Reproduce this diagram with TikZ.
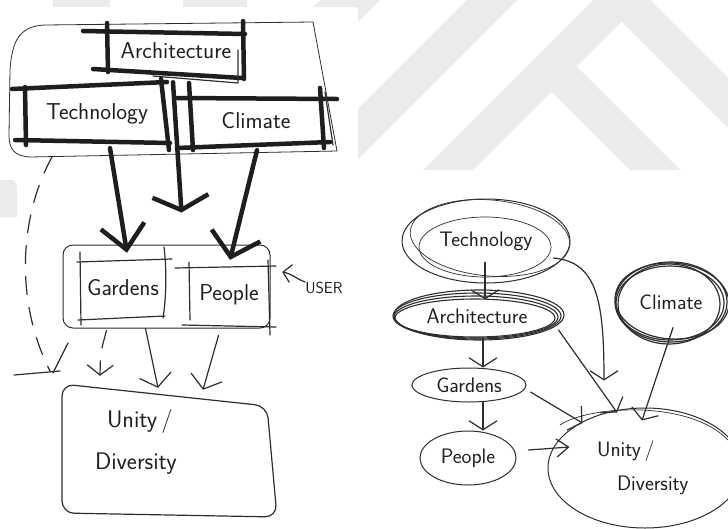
\documentclass[tikz,border=0pt]{standalone}
\usetikzlibrary{calc,arrows.meta,shapes.geometric}
\definecolor{inkc}{HTML}{1E1E1E}
\definecolor{pen}{HTML}{2E2E2E}
\definecolor{wm}{HTML}{EBEBEB}
\begin{document}
\begin{tikzpicture}[x=1pt,y=-1pt,
  ink/.style={draw=pen,line width=1.2pt,line cap=round,line join=round},
  bar/.style={draw=inkc,line width=4.5pt,line cap=round},
  hw/.style={font=\sffamily\fontsize{23}{26}\selectfont,text=inkc,inner sep=0pt},
  hwr/.style={font=\sffamily\fontsize{21}{24}\selectfont,text=inkc,inner sep=0pt},
  thinarr/.style={ink,-{Straight Barb[length=12pt,width=32pt]}},
  rarr/.style={ink,-{Straight Barb[length=9pt,width=28pt]}},
  dsh/.style={ink,dash pattern=on 18pt off 13pt},
  rell/.style={ellipse,draw=pen,line width=1pt,inner sep=0pt},
]
\useasboundingbox (0,0) rectangle (728,528);
\fill[white] (0,0) rectangle (728,528);
% watermark background
\begin{scope}
  \clip (0,0) rectangle (728,7) (358,0) rectangle (728,170);
  \fill[wm] (53,0) rectangle (110,7);
  \fill[wm] (183,0) rectangle (247,7);
  \fill[wm] (320,0) -- (380,0) -- (350,30) -- (290,30) -- cycle;
  \fill[wm] (467,0) -- (517,0) -- (340,177) -- (290,177) -- cycle;
  \fill[wm] (593,0) -- (643,0) -- (473,170) -- (423,170) -- cycle;
  \fill[wm] (551.5,91.5) -- (576.5,66.5) -- (680,170) -- (630,170) -- cycle;
  \fill[wm] (600,0) -- (650,0) -- (728,78) -- (728,128) -- cycle;
\end{scope}
\fill[wm] (0,180) -- (14,180) -- (17,186) -- (17,217) -- (0,217) -- cycle;

% ================= LEFT SKETCH =================
% outer container
\draw[ink,line width=0.8pt] (313,22) -- (45,25) .. controls (20,26) and (12,40) .. (10,70)
   -- (9,135) .. controls (9,150) and (15,156) .. (30,157) -- (337,151) -- cycle;
\coordinate (contbl) at (52,157);

% Architecture
\node[hw,minimum width=136pt,minimum height=40pt] (arch) at (176,51) {Architecture};
\draw[bar] (83,31) -- (245,34);
\draw[bar] (93,69) -- (242,78);
\draw[bar] (107,23) -- (108,72);
\draw[bar] (243,21) -- (244,79);
\draw[ink] (238,50) -- (238,83) -- (153,76);

% Technology
\node[hw,minimum width=138pt,minimum height=54pt] (tech) at (97,114) {Technology};
\draw[bar] (12,89) -- (167,82);
\draw[bar] (15,140) -- (170,143);
\draw[bar] (25,87) -- (26,145);
\draw[bar] (161,79) -- (169,150);

% Climate
\node[hw,minimum width=130pt,minimum height=48pt] (clim) at (256,121) {Climate};
\draw[bar] (177,98) -- (337,99);
\draw[bar] (177,148) -- (330,142);
\draw[bar] (189,83) -- (193,150);
\draw[bar] (320,88) -- (324,148);
\draw[ink] (325,92) -- (333,145);

% middle group
\node[draw=pen,line width=1pt,rounded corners=10pt,minimum width=207pt,minimum height=83pt,inner sep=0pt] (grp2) at (166.5,286.5) {};
\node[hw,minimum width=84pt,minimum height=60pt] (gard) at (123,288) {Gardens};
\draw[ink] (77,262) -- (172,259);
\draw[ink] (80,252) -- (81,325);
\draw[ink] (164,247) .. controls (167,270) and (166,300) .. (163,318);
\draw[ink] (78,320) -- (165,316);
\node[hw,minimum width=80pt,minimum height=58pt] (peo) at (229,295) {People};
\draw[ink] (175,268) -- (276,266);
\draw[ink] (189,262) -- (190,320);
\draw[ink] (268,260) -- (270,335);
\draw[ink] (182,325) -- (276,327);

% USER
\node[font=\sffamily\fontsize{16}{18}\selectfont,text=inkc,inner sep=0pt] (user) at (324,288) {USER};
\draw[ink,-{Straight Barb[length=8pt,width=18pt]}] ($(user.west)+(0,-6)$) to[out=160,in=-10] ($(peo.east)+(13,-23)$);

% thick arrows
\draw[bar,-{Straight Barb[length=24pt,width=44pt]}] ($(tech.south)+(13,7)$) -- ($(gard.north)+(4,-5)$);
\draw[bar,-{Straight Barb[length=14pt,width=56pt]}] ($(arch.south)+(-3,11)$) -- ($(grp2.north)+(15,-32)$);
\draw[bar,-{Straight Barb[length=22pt,width=50pt]}] ($(clim.south)+(1,5)$) -- ($(peo.north)+(1,-6)$);

% Unity / Diversity
\node[hw,font=\sffamily\fontsize{24}{42}\selectfont,minimum width=210pt,minimum height=120pt,text width=150pt,align=left] (uni) at (170,442)
  {\hspace*{12pt}Unity\,/\\Diversity};
\draw[ink,rounded corners=12pt] (62,384) -- (267,406) -- (277,517) -- (62,513) -- cycle;

% arrows into Unity/Diversity
\draw[dsh,-{Straight Barb[length=10pt,width=26pt]}] ($(grp2.south)+(-60,2)$) .. controls ++(-6,22) .. ($(uni.north)+(-70,-6)$);
\draw[thinarr] ($(grp2.south)+(-21,0)$) -- ($(uni.north)+(-12,6)$);
\draw[thinarr] ($(grp2.south)+(52,7)$) -- ($(uni.north)+(33,8)$);

% long dashed connector on the left
\draw[dsh] (contbl) .. controls (20,215) and (14,300) .. (50,371);
\draw[ink] (68,343) -- (53,373);
\draw[ink] (14,375) -- (60,371);

% ================= RIGHT SKETCH =================
% Technology
\node[rell,hwr,minimum width=168pt,minimum height=84pt] (rtech) at (486,241) {Technology};
\draw[ink,line width=0.7pt] (485,247) ellipse [x radius=66pt, y radius=30pt];
\draw[ink,line width=0.7pt] (490,238) ellipse [x radius=80pt, y radius=38pt, rotate=-5];

% Architecture
\node[rell,hwr,line width=1.1pt,minimum width=168pt,minimum height=46pt] (rarch) at (477,316) {Architecture};
\draw[ink,line width=1.1pt] (476,317) ellipse [x radius=82pt, y radius=21pt];
\draw[ink,line width=1.1pt] (479,315) ellipse [x radius=85pt, y radius=25pt];
\draw[ink,line width=1.1pt] (475,318) ellipse [x radius=80pt, y radius=19pt];

% Climate
\node[rell,hwr,line width=1.2pt,minimum width=112pt,minimum height=80pt] (rclim) at (671,302) {Climate};
\draw[ink,line width=1.2pt] (670,303) ellipse [x radius=54pt, y radius=37pt];
\draw[ink,line width=1.2pt] (672,301) ellipse [x radius=57pt, y radius=38pt, rotate=-4];
\draw[ink,line width=1.2pt] (669,304) ellipse [x radius=51pt, y radius=40pt];

% Gardens
\node[rell,hwr,minimum width=114pt,minimum height=34pt] (rgard) at (469,385) {Gardens};

% People
\node[rell,hwr,minimum width=96pt,minimum height=54pt] (rpeo) at (468,458) {People};

% Unity / Diversity
\node[rell,hwr,minimum width=194pt,minimum height=120pt,text width=100pt,align=left,font=\sffamily\fontsize{21}{34}\selectfont] (runi) at (645,468)
  {\hspace*{2pt}Unity\,/\\\hspace*{22pt}Diversity};
\draw[ink,line width=0.7pt] (560,425) .. controls (590,405) and (690,400) .. (728,440);

% arrows
\draw[rarr] ($(rtech.south)+(-1,-21)$) -- ($(rarch.north)+(8,7)$);
\draw[rarr] ($(rarch.south)+(6,-2)$) -- ($(rgard.north)+(14,0)$);
\draw[rarr] ($(rgard.south)+(14,0)$) -- ($(rpeo.north)+(15,0)$);
\draw[ink,-{Straight Barb[length=12pt,width=18pt]}] ($(rpeo.east)+(12,-8)$) -- ($(runi.west)+(22,-21)$);
\draw[rarr] ($(rgard.east)+(4,7)$) -- ($(runi.west)+(35,-45)$);
\draw[rarr] ($(rarch.east)+(-3,14)$) -- ($(runi.north)+(-28,5)$);
\draw[rarr] ($(rtech.east)+(-17,17)$) .. controls (597,262) and (604,300) .. ($(runi.north)+(-41,-27)$);
\draw[rarr] ($(rclim.south)+(2,-15)$) -- ($(runi.north)+(-3,13)$);
\end{tikzpicture}
\end{document}
